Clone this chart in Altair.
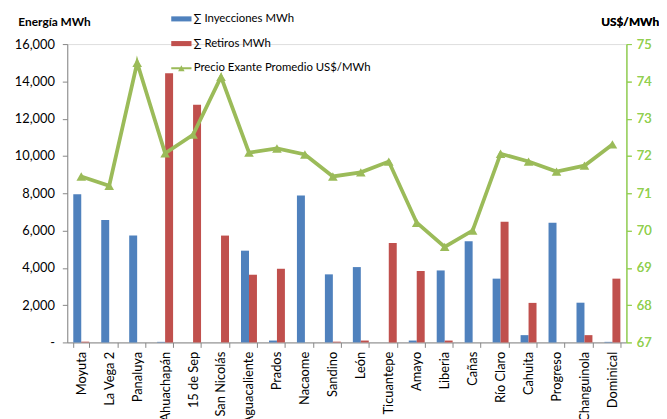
import altair as alt
import pandas as pd

categories = ["Moyuta", "La Vega 2", "Panaluya", "Ahuachapán", "15 de Sep", "San Nicolás",
              "Aguacaliente", "Prados", "Nacaome", "Sandino", "León", "Ticuantepe", "Amayo",
              "Liberia", "Cañas", "Río Claro", "Cahuita", "Progreso", "Changuinola", "Dominical"]
inyecciones = [7950, 6570, 5730, 30, 0, 0, 4920, 100, 7880, 3650, 4040, 0, 100,
               3860, 5430, 3420, 390, 6420, 2130, 30]
retiros = [40, 0, 0, 14440, 12750, 5730, 3630, 3950, 0, 40, 100, 5330, 3830,
           100, 0, 6470, 2120, 0, 390, 3420]
precio = [71.45, 71.2, 74.5, 72.07, 72.57, 74.12, 72.09, 72.2, 72.04, 71.45, 71.56,
          71.85, 70.21, 69.56, 70.0, 72.06, 71.85, 71.58, 71.74, 72.31]

s_iny = "∑ Inyecciones MWh"
s_ret = "∑ Retiros MWh"
s_pre = "Precio Exante Promedio US$/MWh"

bars_df = pd.DataFrame(
    [{"cat": c, "serie": s_iny, "valor": v} for c, v in zip(categories, inyecciones)]
    + [{"cat": c, "serie": s_ret, "valor": v} for c, v in zip(categories, retiros)]
)
line_df = pd.DataFrame({"cat": categories, "precio": precio, "serie": [s_pre] * len(categories)})

FONT = "Lato"
xscale = alt.Scale(domain=categories, paddingInner=0.43, paddingOuter=0.215)
xaxis = alt.Axis(title=None, labelAngle=-90, labelFontSize=13, labelColor="#000000",
                 labelFont=FONT, tickBand="extent", tickColor="#868686", domainColor="#868686",
                 tickSize=5, labelPadding=4, grid=False)

bars = alt.Chart(bars_df).mark_bar().encode(
    x=alt.X("cat:N", scale=xscale, axis=xaxis, sort=categories),
    xOffset=alt.XOffset("serie:N", scale=alt.Scale(domain=[s_iny, s_ret], padding=0)),
    y=alt.Y("valor:Q", scale=alt.Scale(domain=[0, 16000], nice=False),
            axis=alt.Axis(title="Energía MWh", titleAngle=0, titleX=-50, titleY=-16,
                          titleAlign="left", titleBaseline="bottom", titleFontSize=12,
                          titleFontWeight="bold", titleFont=FONT, titleColor="#000000",
                          values=list(range(0, 16001, 2000)),
                          labelExpr="datum.value == 0 ? '-' : format(datum.value, ',')",
                          labelFontSize=13, labelFont=FONT, labelColor="#000000",
                          tickColor="#868686", domainColor="#868686", tickSize=5,
                          labelPadding=8, grid=False)),
    color=alt.Color("serie:N", scale=alt.Scale(domain=[s_iny, s_ret], range=["#4F81BD", "#C0504D"]),
                    legend=alt.Legend(title=None, orient="none", legendX=105, legendY=-36,
                                      symbolType="M-1,-0.25H1V0.25H-1Z", symbolSize=420,
                                      symbolStrokeWidth=0, labelFontSize=11.5, labelFont=FONT,
                                      labelColor="#000000", rowPadding=9, symbolOffset=0,
                                      labelOffset=2, labelLimit=400)),
)

line_base = alt.Chart(line_df).encode(
    x=alt.X("cat:N", scale=xscale, sort=categories),
    y=alt.Y("precio:Q", scale=alt.Scale(domain=[67, 75], nice=False),
            axis=alt.Axis(title="US$/MWh", orient="right", titleAngle=0, titleX=-26, titleY=-16,
                          titleAlign="left", titleBaseline="bottom", titleFontSize=12,
                          titleFontWeight="bold", titleFont=FONT, titleColor="#000000",
                          values=list(range(67, 76)), labelFontSize=13, labelFont=FONT,
                          labelColor="#92D050", tickColor="#92D050", domainColor="#92D050",
                          tickSize=5, labelPadding=5, grid=False)),
)

line = line_base.mark_line(strokeWidth=3.8).encode(
    stroke=alt.Stroke("serie:N", scale=alt.Scale(domain=[s_pre], range=["#9BBB59"]),
                      legend=alt.Legend(title=None, orient="none", legendX=105, legendY=14,
                                        symbolType="M-1,-0.09H1V0.09H-1Z M-0.32,0.3L0,-0.3L0.32,0.3Z",
                                        symbolSize=420, symbolFillColor="#9BBB59",
                                        symbolStrokeWidth=0, labelFontSize=11.5, labelFont=FONT,
                                        labelColor="#000000", labelOffset=2, labelLimit=400)),
)
points = line_base.mark_point(shape="triangle-up", filled=True, size=95, color="#9BBB59", opacity=1)

chart = alt.layer(bars, line, points).resolve_scale(y="independent").properties(
    width=566, height=302,
    autosize=alt.AutoSizeParams(type="none"),
    padding={"left": 60, "top": 34, "right": 33, "bottom": 75},
).configure_view(stroke=None).configure(background="white")

chart.save("out.html", embed_options={"renderer": "svg", "actions": False})
